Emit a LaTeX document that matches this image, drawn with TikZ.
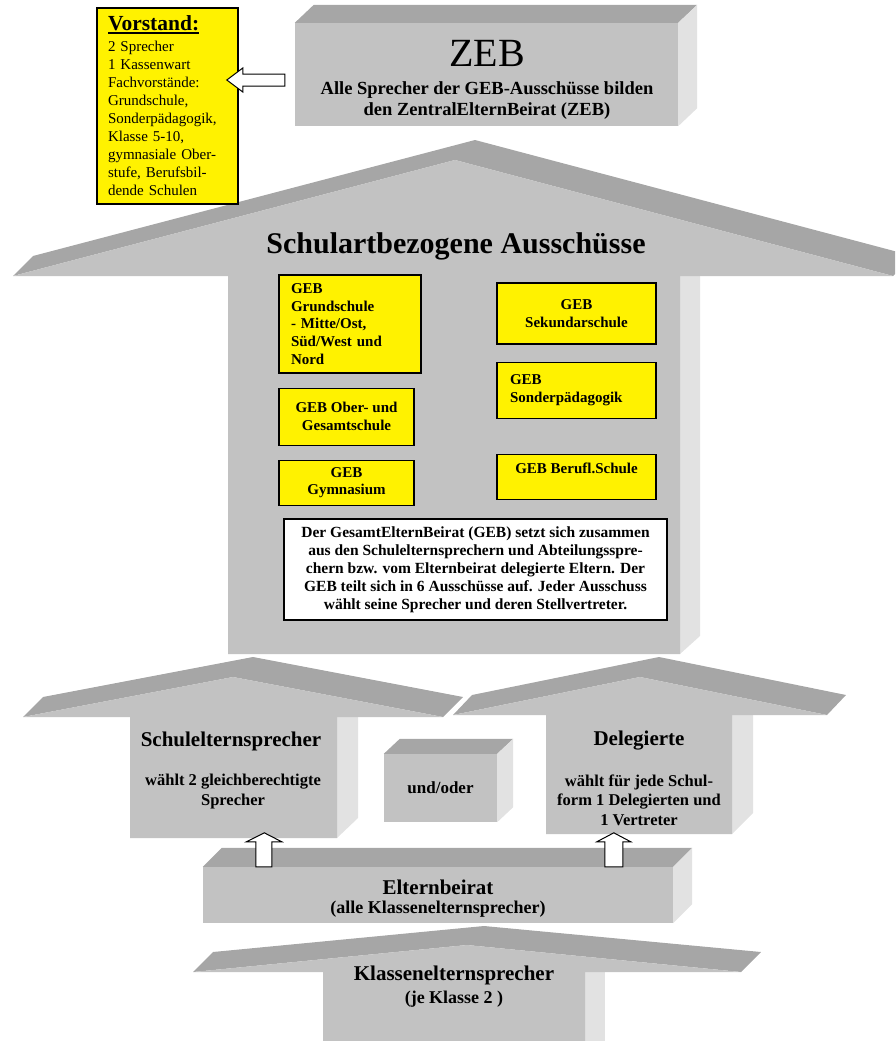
\documentclass[tikz,border=0pt]{standalone}
\usepackage{fontspec}
\setmainfont{Liberation Serif}
\usepackage{tikz}
\usetikzlibrary{calc,positioning}
\definecolor{vorne}{RGB}{194,194,194}
\definecolor{dach}{RGB}{166,166,166}
\definecolor{seite}{RGB}{226,226,226}
\tikzset{
    %Define style for front faces
    front/.style={
           rectangle,
           fill=vorne,
           inner sep=0pt},
    dachflaeche/.style={fill=dach},
    seitenflaeche/.style={fill=seite},
    %Define style for boxes
    gelb/.style={
           rectangle,
           draw=black, line width=1.1pt,
           fill=yellow,
           inner sep=0pt,
           font=\bfseries\fontsize{15}{17.8}\selectfont},
    infobox/.style={
           rectangle,
           draw=black, line width=1.1pt,
           fill=white,
           inner sep=0pt,
           align=center,
           font=\bfseries\fontsize{15.5}{17.9}\selectfont},
    %Define style for texts
    titel/.style={
           inner sep=0pt,
           anchor=base,
           font=\bfseries\fontsize{21}{24}\selectfont},
    untertitel/.style={
           inner sep=0pt,
           align=center,
           font=\bfseries\fontsize{16.5}{19.5}\selectfont},
    % Define block arrow style
    hohl/.style={
           draw=black, line width=1pt,
           fill=white}
}

\begin{document}
\begin{tikzpicture}[x=1pt,y=-1pt,node distance=14pt]
\useasboundingbox (0,0) rectangle (895,1041);
\clip (0,0) rectangle (895,1041);

 %big arrow
\fill[dachflaeche] (13,276) -- (33,256) -- (475,140) -- (913,256) -- (893,276) -- (455,160) -- cycle;
\fill[seitenflaeche] (680,276) -- (700,276) -- (700,636) -- (680,654) -- cycle;
\fill[vorne] (13,276) -- (455,160) -- (893,276) -- (680,276) -- (680,654) -- (228,654) -- (228,276) -- cycle;
\node[titel, font=\bfseries\fontsize{30}{34}\selectfont] (ausschuesse) at (456,253) {Schulartbezogene Ausschüsse};

 %committees
\node[gelb, minimum width=142pt, minimum height=98pt, text width=118pt, align=left] (grund) at (350,324) {GEB\\Grundschule\\- Mitte/Ost,\\Süd/West und\\Nord};
\node[gelb, minimum width=135pt, minimum height=57pt, align=center, below=14pt of grund.south west, anchor=north west] (gesamt) {GEB Ober- und\\Gesamtschule};
\node[gelb, minimum width=135pt, minimum height=45pt, align=center, below=14pt of gesamt.south west, anchor=north west] (gymnasium) {GEB\\Gymnasium};
\node[gelb, minimum width=159pt, minimum height=61pt, align=center] (sekundar) at (576.5,313.5) {GEB\\Sekundarschule};
\node[gelb, minimum width=159pt, minimum height=56pt, text width=133pt, align=left, below=17pt of sekundar.south west, anchor=north west] (sonder) {GEB\\Sonderpädagogik};
\node[gelb, minimum width=159pt, minimum height=45pt, align=center, below=35pt of sonder.south west, anchor=north west] (berufl) {GEB Berufl.Schule\\~};
\node[infobox, minimum width=383pt, minimum height=101pt] (geb) at (475.5,569.5) {Der GesamtElternBeirat (GEB) setzt sich zusammen\\aus den Schulelternsprechern und Abteilungsspre-\\chern bzw. vom Elternbeirat delegierte Eltern. Der\\GEB teilt sich in 6 Ausschüsse auf. Jeder Ausschuss\\wählt seine Sprecher und deren Stellvertreter.};

 %ZEB
\node[front, minimum width=383pt, minimum height=103pt] (zeb) at (486.5,74.5) {};
\fill[dachflaeche] (zeb.north west) -- ++(19,-18) -- ($(zeb.north east)+(19,-18)$) -- (zeb.north east) -- cycle;
\fill[seitenflaeche] (zeb.north east) -- ++(19,-18) -- ($(zeb.south east)+(19,-18)$) -- (zeb.south east) -- cycle;
\node[untertitel, font=\bfseries\fontsize{18.5}{21}\selectfont] (zebtext) at (487,79.5) {{\mdseries\fontsize{40}{40}\selectfont ZEB}\\[7pt]Alle Sprecher der GEB-Ausschüsse bilden\\den ZentralElternBeirat (ZEB)};

 %board
\node[gelb, minimum width=141pt, minimum height=196pt, text width=119pt, align=left, font=\fontsize{15}{18.1}\selectfont] (vorstand) at (167.5,106) {{\bfseries\fontsize{21.5}{24}\selectfont\vtop{\hbox{Vorstand:}\kern1pt\hrule height 2pt}}\\[2pt]2 Sprecher\\1 Kassenwart\\Fachvorstände:\\Grundschule,\\Sonderpädagogik,\\Klasse 5-10,\\gymnasiale Ober-\\stufe, Berufsbil-\\dende Schulen};
\draw[hohl] ($(zeb.west)+(-10,-0.5)$) -- ++(-42,0) -- ++(0,-6) -- ++(-16,12) -- ++(16,12) -- ++(0,-6) -- ++(42,0) -- cycle;

 %Schulelternsprecher
\fill[dachflaeche] (23,717) -- (43,697) -- (253,657) -- (463,697) -- (443,717) -- (233,677) -- cycle;
\fill[seitenflaeche] (337,717) -- (358,717) -- (358,818) -- (337,838) -- cycle;
\fill[vorne] (23,717) -- (233,677) -- (443,717) -- (337,717) -- (337,838) -- (130,838) -- (130,717) -- cycle;
\node[titel] (schuleltern) at (231,746) {Schulelternsprecher};
\node[untertitel] (schuleltern-text) at (233,791.5) {wählt 2 gleichberechtigte\\Sprecher};

 %und/oder
\node[front, minimum width=113pt, minimum height=68pt, font=\bfseries\fontsize{17}{20}\selectfont] (undoder) at (440.5,788) {und/oder};
\fill[dachflaeche] (undoder.north west) -- ++(16,-15) -- ($(undoder.north east)+(16,-15)$) -- (undoder.north east) -- cycle;
\fill[seitenflaeche] (undoder.north east) -- ++(16,-15) -- ($(undoder.south east)+(16,-15)$) -- (undoder.south east) -- cycle;

 %Delegierte
\fill[dachflaeche] (453,715) -- (472,695) -- (659,657) -- (846,695) -- (827,715) -- (640,677) -- cycle;
\fill[seitenflaeche] (732,715) -- (753,715) -- (753,813) -- (732,834) -- cycle;
\fill[vorne] (453,715) -- (640,677) -- (827,715) -- (732,715) -- (732,834) -- (546,834) -- (546,715) -- cycle;
\node[titel] (delegierte) at (639,745) {Delegierte};
\node[untertitel] (delegierte-text) at (639,800) {wählt für jede Schul-\\form 1 Delegierten und\\1 Vertreter};

 %Elternbeirat
\node[front, minimum width=470pt, minimum height=56pt] (elternbeirat) at (438,895) {};
\fill[dachflaeche] (elternbeirat.north west) -- ++(19,-19) -- ($(elternbeirat.north east)+(19,-19)$) -- (elternbeirat.north east) -- cycle;
\fill[seitenflaeche] (elternbeirat.north east) -- ++(19,-19) -- ($(elternbeirat.south east)+(19,-19)$) -- (elternbeirat.south east) -- cycle;
\node[untertitel, font=\bfseries\fontsize{18}{19}\selectfont] (elternbeirat-text) at (438,899) {{\fontsize{21}{24}\selectfont Elternbeirat}\\(alle Klassenelternsprecher)};
\draw[hohl] ($(elternbeirat.north west)+(53,0)$) -- ++(0,-25) -- ++(-9.5,0) -- ++(18,-9) -- ++(17.5,9) -- ++(-10,0) -- ++(0,25) -- cycle;
\draw[hohl] ($(elternbeirat.north west)+(402,0)$) -- ++(0,-25) -- ++(-8,0) -- ++(17,-9) -- ++(17,9) -- ++(-8,0) -- ++(0,25) -- cycle;

 %Klassenelternsprecher
\fill[dachflaeche] (193,972) -- (213,952) -- (484,926) -- (761,952) -- (741,972) -- (467,945) -- cycle;
\fill[seitenflaeche] (585,972) -- (605,972) -- (605,1045) -- (585,1045) -- cycle;
\fill[vorne] (193,972) -- (467,945) -- (741,972) -- (585,972) -- (585,1045) -- (323,1045) -- (323,972) -- cycle;
\node[untertitel, font=\bfseries\fontsize{18}{23}\selectfont] (klassen) at (454,987) {{\fontsize{21}{24}\selectfont Klassenelternsprecher}\\(je Klasse 2 )};
\end{tikzpicture}
\end{document}
